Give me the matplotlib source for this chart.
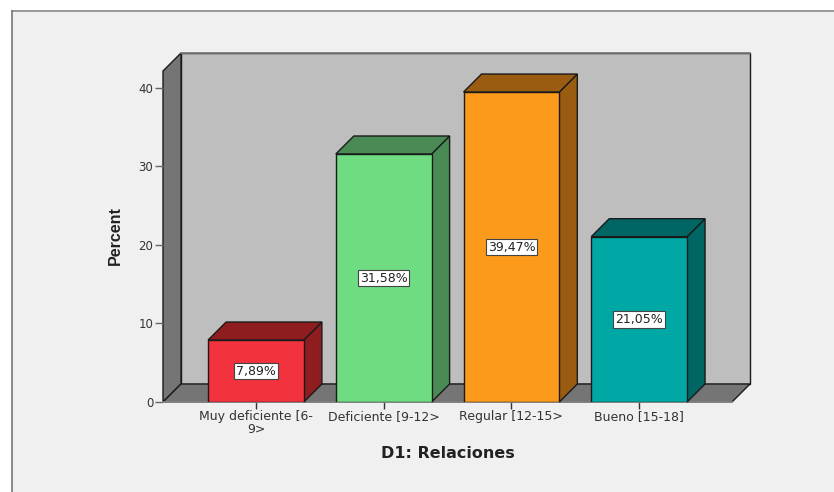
import matplotlib
matplotlib.use("Agg")
import matplotlib.pyplot as plt
from matplotlib.patches import Polygon, Rectangle

categories = ["Muy deficiente [6-\n9>", "Deficiente [9-12>", "Regular [12-15>", "Bueno [15-18]"]
percent = [7.89, 31.58, 39.47, 21.05]
labels = ["7,89%", "31,58%", "39,47%", "21,05%"]
front_colors = ["#f2323c", "#70dc82", "#fb9a1b", "#00a8a5"]
side_colors = ["#8f1d20", "#4a8a55", "#995c10", "#006663"]
y_ticks = [0, 10, 20, 30, 40]

W, H = 834, 492
BAR_W = 0.75
XMIN, XMAX = -0.728, 3.727
YMIN, YMAX = 0, 42.15
DX = 18 / 127.7   # depth offset, data units
DY = 18 / 7.85

plt.rcParams["font.family"] = ["DejaVu Sans"]

fig = plt.figure(figsize=(W / 100, H / 100), dpi=100, facecolor="white")

# panel background + frame lines
fig.add_artist(Rectangle((11 / W, 0), 1, 1 - 10 / H, transform=fig.transFigure,
                         facecolor="#f0f0f0", edgecolor="none", zorder=-1))
fig.add_artist(plt.Line2D([11.5 / W, 1], [1 - 10.5 / H] * 2, color="#8a8a8a", lw=1.2))
fig.add_artist(plt.Line2D([11.5 / W] * 2, [0, 1 - 10.5 / H], color="#777777", lw=1.2))

# axes = front plane of the 3D box
ax = fig.add_axes([163 / W, 1 - 402 / H, (732 - 163) / W, (402 - 71) / H])
ax.patch.set_visible(False)
ax.set_xlim(XMIN, XMAX)
ax.set_ylim(YMIN, YMAX)
for sp in ax.spines.values():
    sp.set_visible(False)


def poly(pts, fc, z):
    ax.add_patch(Polygon(pts, closed=True, facecolor=fc, edgecolor="#1a1a1a", lw=1.0,
                         joinstyle="miter", clip_on=False, zorder=z))


# back wall, left wall, floor
poly([(XMIN + DX, DY), (XMAX + DX, DY), (XMAX + DX, YMAX + DY), (XMIN + DX, YMAX + DY)], "#bebebe", 1)
poly([(XMIN, 0), (XMIN + DX, DY), (XMIN + DX, YMAX + DY), (XMIN, YMAX)], "#757575", 1)
poly([(XMIN, 0), (XMAX, 0), (XMAX + DX, DY), (XMIN + DX, DY)], "#757575", 1)

# top edge of the wall and front edge of the floor are lighter in the original
ax.plot([XMIN + DX, XMAX + DX], [YMAX + DY] * 2, color="#7a7a7a", lw=1.2, clip_on=False, zorder=2)
ax.plot([XMIN, XMAX], [0, 0], color="#8a8a8a", lw=1.2, clip_on=False, zorder=2)

# bars
for i, (v, fc, sc, lab) in enumerate(zip(percent, front_colors, side_colors, labels)):
    l, r = i - BAR_W / 2, i + BAR_W / 2
    poly([(r, 0), (r + DX, DY), (r + DX, v + DY), (r, v)], sc, 3)
    poly([(l, v), (r, v), (r + DX, v + DY), (l + DX, v + DY)], sc, 3)
    ax.bar(i, v, BAR_W, color=fc, edgecolor="#1a1a1a", lw=1.0, zorder=4)
    ax.text(i, v / 2, lab, ha="center", va="center", fontsize=9, color="#222222", zorder=5,
            bbox=dict(boxstyle="square,pad=0.15", facecolor="white", edgecolor="#444444", lw=0.8))

ax.set_xticks(range(len(categories)))
ax.set_xticklabels(categories, fontsize=9, color="#333333", linespacing=0.95)
ax.set_yticks(y_ticks)
ax.tick_params(axis="y", length=6, width=1, color="#666666", labelcolor="#333333", labelsize=8.5, pad=1)
ax.tick_params(axis="x", length=5, width=1, color="#333333", pad=1)

fig.text(115 / W, 1 - 236 / H, "Percent", rotation=90, ha="center", va="center",
         fontsize=11.5, fontweight="bold", color="#222222", family="Liberation Sans")
fig.text(448 / W, 1 - 453 / H, "D1: Relaciones", ha="center", va="center",
         fontsize=11.5, fontweight="bold", color="#222222")

fig.savefig("out.png", dpi=100, facecolor=fig.get_facecolor())
